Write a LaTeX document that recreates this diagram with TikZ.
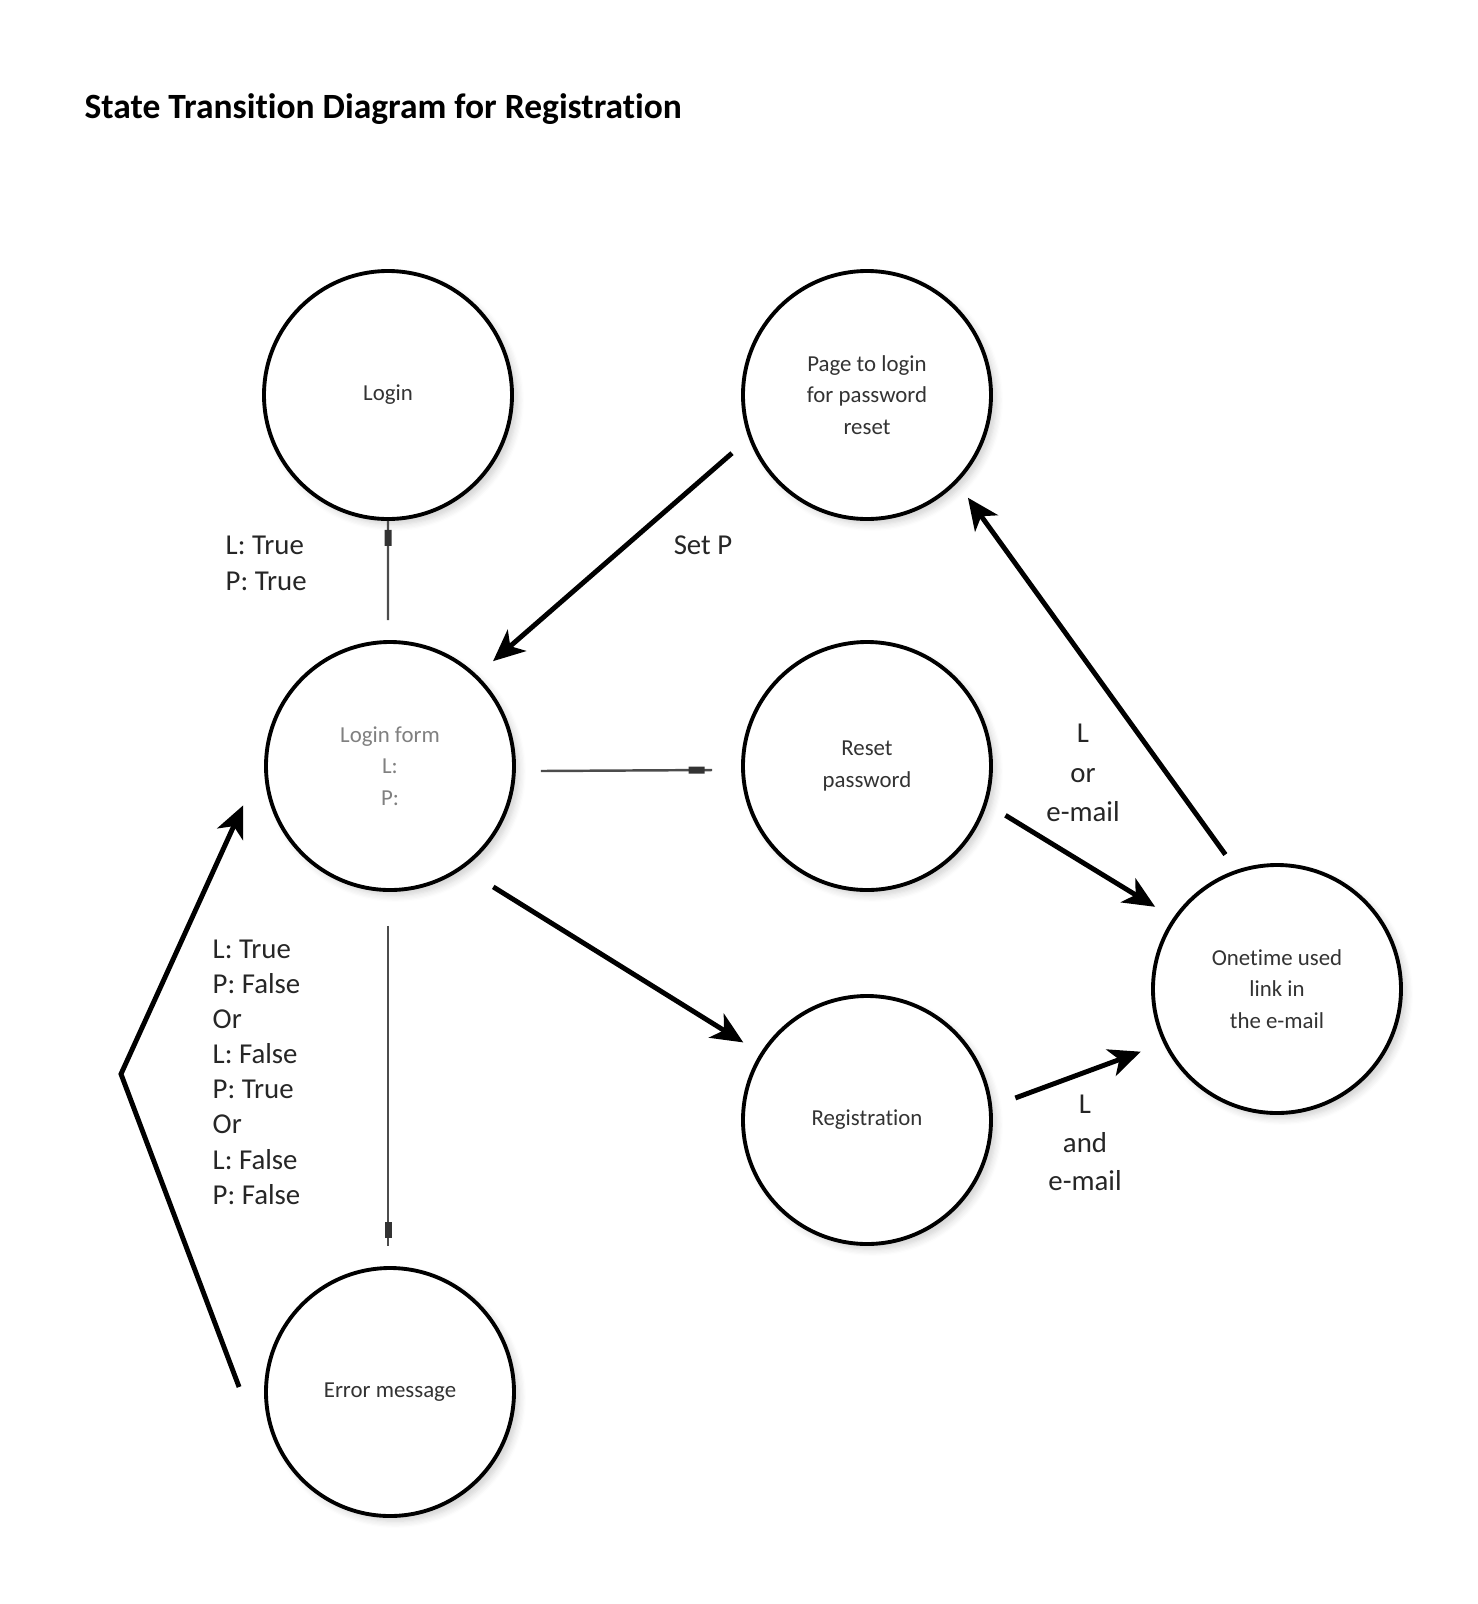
\documentclass[tikz,border=0pt]{standalone}
\usepackage{fontspec}
\setmainfont{Carlito}[RawFeature={-liga;-clig;-calt;-ccmp}]
\usetikzlibrary{arrows.meta,calc,shadows.blur}

\begin{document}
\begin{tikzpicture}[
    state/.style={circle, draw=black, line width=1.1pt, fill=white, minimum size=2.48cm, inner sep=0pt,
        align=center, font=\fontsize{6.5}{9}\selectfont, text=black!80,
        blur shadow={shadow xshift=1.5pt, shadow yshift=-1.5pt, shadow blur steps=6, shadow opacity=18}},
    arrow/.style={-{Stealth[length=9pt, width=8pt, inset=2.5pt]}, line width=1.4pt},
    flowline/.style={line width=0.7pt, draw=black!70},
    tickbox/.style={fill=black!80, inner sep=0pt, minimum width=0.16cm, minimum height=0.07cm, sloped},
    lbl/.style={align=left, inner sep=0pt, font=\fontsize{8.2}{10}\selectfont, text=black!85}
]
\useasboundingbox (0,0) rectangle (14.77,-16.04);

\node[anchor=west, inner sep=0pt, font=\bfseries\fontsize{10.1}{12}\selectfont] (title) at (0.84,-1.095) {State Transition Diagram for Registration};

% states
\node[state] (login) at (3.88,-3.95) {Login};
\node[state] (page) at (8.67,-3.95) {Page to login\\for password\\reset};
\node[state, text=black!50] (form) at (3.90,-7.66) {Login form\\L:\\P:};
\node[state] (reset) at (8.67,-7.66) {Reset\\password};
\node[state] (reg) at (8.67,-11.20) {Registration};
\node[state] (once) at (12.77,-9.89) {Onetime used\\link in\\the e-mail};
\node[state] (error) at (3.90,-13.92) {Error message};

\coordinate (bend) at (1.21,-10.74);

% thin lines with the small ticks
\draw[flowline] ([shift={(-0.02,0.2)}]form.north) -- (login.south)
    node[tickbox, pos=0.83] {};
\draw[flowline] ([shift={(0.25,-0.05)}]form.east) -- ([shift={(-0.29,-0.04)}]reset.west)
    node[tickbox, pos=0.91] {};
\draw[flowline] ([shift={(-0.02,-0.34)}]form.south) -- ([shift={(-0.02,0.2)}]error.north)
    node[tickbox, pos=0.95] {};

% arrows
\draw[arrow] ($(page)+(203.3:1.47)$) -- ($(form)+(45.5:1.47)$);
\draw[arrow] ($(form)+(-49.5:1.59)$) -- ($(reg)+(147.9:1.46)$);
\draw[arrow] ($(reset)+(-19.6:1.47)$) -- ($(once)+(146:1.47)$);
\draw[arrow] ($(reg)+(8.45:1.50)$) -- ($(once)+(204.7:1.50)$);
\draw[arrow] ($(once)+(111:1.44)$) -- ($(page)+(-45.5:1.44)$);
\draw[arrow] ($(error)+(178.1:1.51)$) -- (bend) -- ($(form)+(195:1.52)$);

% labels
\node[lbl, anchor=west, font=\fontsize{8.2}{10.2}\selectfont] (lbtrue) at (2.25,-5.63) {L: True\\P: True};
\node[lbl] (lbset) at (7.03,-5.45) {Set P};
\node[lbl, align=center, font=\fontsize{8.2}{11.2}\selectfont] (lbor) at (10.83,-7.73) {L\\or\\e-mail};
\node[lbl, align=center, font=\fontsize{8.2}{11}\selectfont] (lband) at (10.85,-11.43) {L\\and\\e-mail};
\node[lbl, anchor=west] (lbfalse) at (2.12,-10.72)
    {L: True\\P: False\\Or\\L: False\\P: True\\Or\\L: False\\P: False};

\end{tikzpicture}
\end{document}
